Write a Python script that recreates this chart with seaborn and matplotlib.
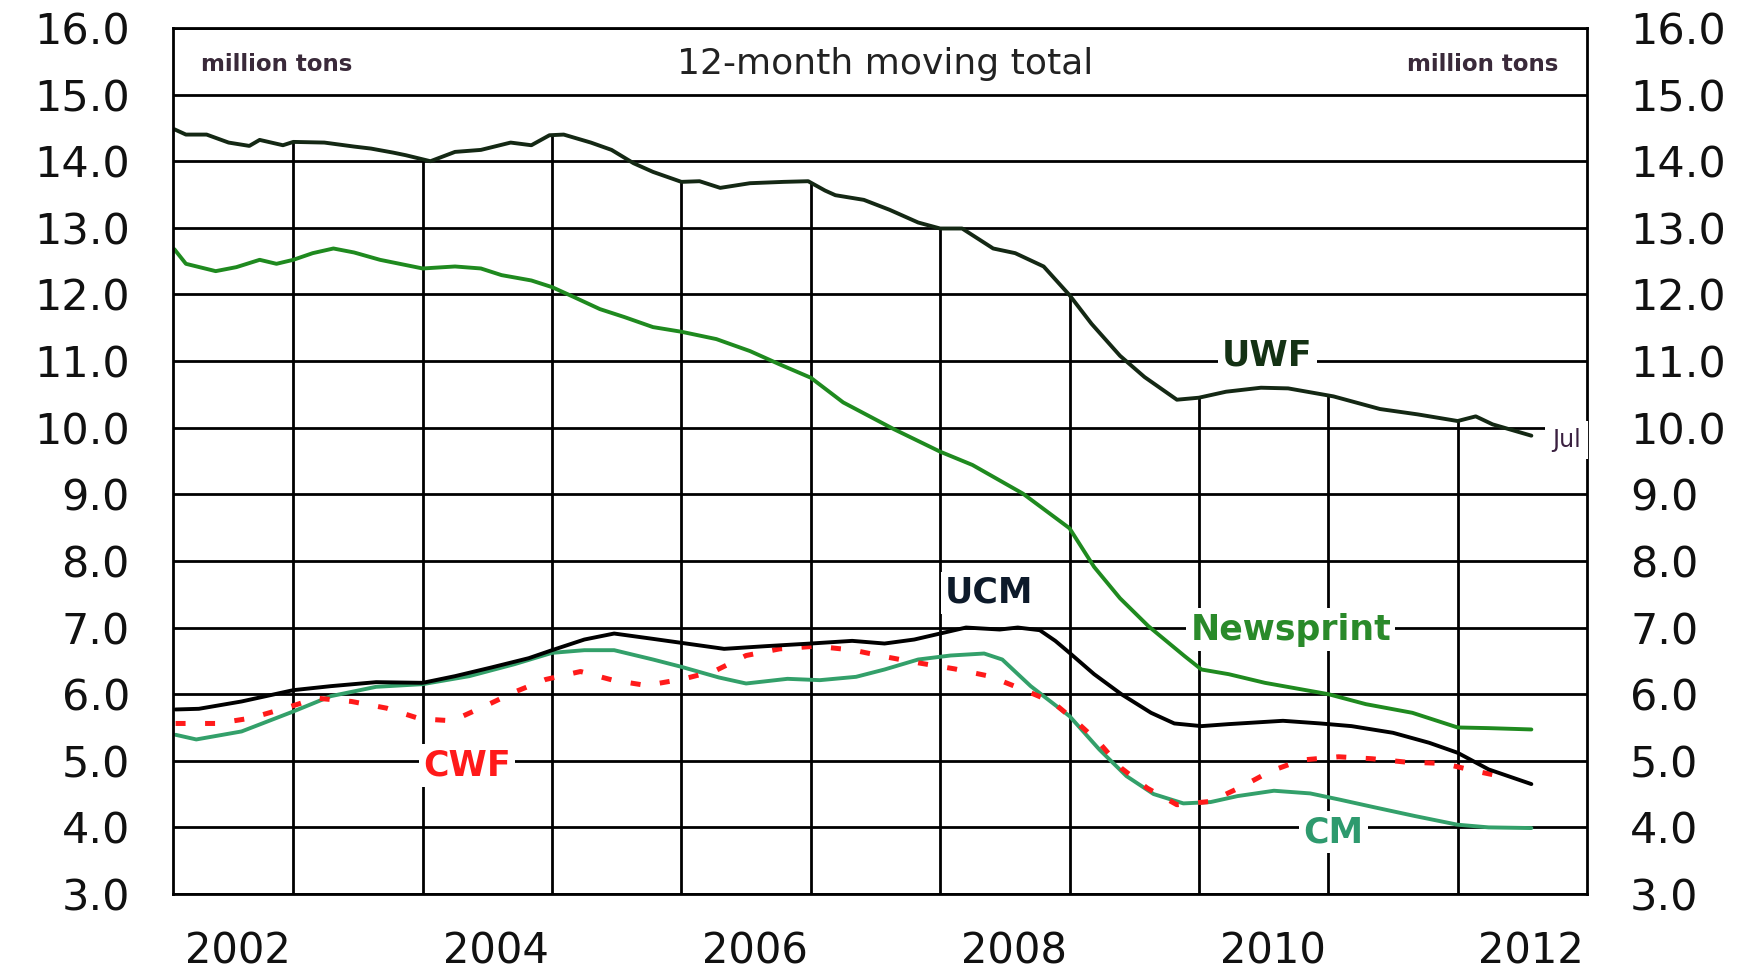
import numpy as np
import pandas as pd
import matplotlib
matplotlib.use("Agg")
import matplotlib.pyplot as plt
import seaborn as sns

# ---------------- data (12-month moving total, million tons) ----------------
uwf_year = [2002.08, 2002.17, 2002.33, 2002.50, 2002.66, 2002.74, 2002.92, 2003.00, 2003.24, 2003.47,
            2003.60, 2003.77, 2003.87, 2004.06, 2004.25, 2004.45, 2004.68, 2004.84, 2004.98, 2005.09,
            2005.30, 2005.46, 2005.63, 2005.78, 2006.00, 2006.14, 2006.30, 2006.53, 2006.79, 2006.98,
            2007.11, 2007.19, 2007.41, 2007.61, 2007.83, 2008.00, 2008.17, 2008.41, 2008.58, 2008.80,
            2009.00, 2009.17, 2009.39, 2009.58, 2009.83, 2010.00, 2010.21, 2010.48, 2010.69, 2011.04,
            2011.40, 2011.69, 2012.00, 2012.14, 2012.27, 2012.57]
uwf_val = [14.48, 14.40, 14.40, 14.28, 14.23, 14.32, 14.24, 14.29, 14.28, 14.22,
           14.19, 14.13, 14.09, 14.00, 14.14, 14.17, 14.28, 14.24, 14.39, 14.40,
           14.28, 14.17, 13.97, 13.84, 13.69, 13.70, 13.60, 13.67, 13.69, 13.70,
           13.56, 13.49, 13.42, 13.27, 13.08, 12.99, 12.99, 12.69, 12.62, 12.42,
           11.99, 11.56, 11.08, 10.76, 10.42, 10.45, 10.54, 10.60, 10.59, 10.47,
           10.28, 10.20, 10.10, 10.17, 10.05, 9.88]

news_year = [2002.08, 2002.17, 2002.40, 2002.56, 2002.74, 2002.87, 2003.00, 2003.15, 2003.31, 2003.47,
             2003.67, 2004.00, 2004.25, 2004.45, 2004.61, 2004.84, 2005.00, 2005.17, 2005.37, 2005.56,
             2005.78, 2006.00, 2006.27, 2006.53, 2006.76, 2007.00, 2007.25, 2007.64, 2008.00, 2008.25,
             2008.64, 2009.00, 2009.19, 2009.39, 2009.61, 2009.89, 2010.02, 2010.23, 2010.51, 2011.00,
             2011.29, 2011.65, 2012.00, 2012.24, 2012.57]
news_val = [12.68, 12.46, 12.35, 12.41, 12.52, 12.46, 12.52, 12.62, 12.69, 12.63,
            12.52, 12.39, 12.42, 12.39, 12.29, 12.21, 12.11, 11.96, 11.78, 11.66,
            11.51, 11.44, 11.33, 11.15, 10.95, 10.75, 10.38, 9.98, 9.64, 9.44,
            9.01, 8.49, 7.91, 7.44, 7.02, 6.57, 6.37, 6.30, 6.17, 6.00,
            5.85, 5.72, 5.50, 5.49, 5.47]

ucm_year = [2002.09, 2002.27, 2002.60, 2003.00, 2003.29, 2003.64, 2004.00, 2004.25, 2004.53, 2004.82,
            2005.00, 2005.25, 2005.48, 2005.78, 2006.00, 2006.33, 2006.65, 2007.00, 2007.32, 2007.57,
            2007.80, 2008.00, 2008.20, 2008.46, 2008.60, 2008.77, 2008.89, 2009.00, 2009.19, 2009.40,
            2009.63, 2009.81, 2010.02, 2010.23, 2010.65, 2010.94, 2011.18, 2011.50, 2011.78, 2012.00,
            2012.24, 2012.57]
ucm_val = [5.77, 5.78, 5.89, 6.06, 6.12, 6.18, 6.17, 6.27, 6.40, 6.54,
           6.66, 6.82, 6.91, 6.83, 6.77, 6.68, 6.72, 6.76, 6.80, 6.76,
           6.82, 6.91, 7.00, 6.97, 7.00, 6.96, 6.80, 6.62, 6.30, 6.00,
           5.72, 5.56, 5.52, 5.55, 5.60, 5.56, 5.52, 5.42, 5.27, 5.12,
           4.87, 4.65]

cm_year = [2002.09, 2002.25, 2002.60, 2003.00, 2003.29, 2003.64, 2004.00, 2004.36, 2004.71, 2005.00,
           2005.25, 2005.48, 2005.78, 2006.00, 2006.29, 2006.50, 2006.82, 2007.07, 2007.35, 2007.57,
           2007.83, 2008.08, 2008.34, 2008.48, 2008.70, 2009.00, 2009.23, 2009.44, 2009.65, 2009.88,
           2010.09, 2010.30, 2010.58, 2010.86, 2011.08, 2011.36, 2011.67, 2012.00, 2012.24, 2012.57]
cm_val = [5.39, 5.32, 5.44, 5.74, 5.97, 6.11, 6.15, 6.27, 6.45, 6.62,
          6.66, 6.66, 6.52, 6.41, 6.25, 6.16, 6.23, 6.21, 6.26, 6.37,
          6.52, 6.58, 6.61, 6.52, 6.12, 5.67, 5.17, 4.77, 4.50, 4.36,
          4.38, 4.47, 4.55, 4.51, 4.42, 4.30, 4.17, 4.04, 4.00, 3.99]

cwf_year = [2002.09, 2002.41, 2002.67, 2002.94, 2003.18, 2003.45, 2003.72, 2003.98, 2004.23, 2004.48,
            2004.72, 2004.95, 2005.22, 2005.47, 2005.73, 2006.02, 2006.26, 2006.50, 2006.76, 2007.04,
            2007.33, 2007.58, 2007.83, 2008.11, 2008.38, 2008.64, 2008.87, 2009.05, 2009.23, 2009.40,
            2009.60, 2009.83, 2010.09, 2010.33, 2010.55, 2010.79, 2011.08, 2011.34, 2011.60, 2011.89,
            2012.15, 2012.35]
cwf_val = [5.56, 5.56, 5.64, 5.79, 5.94, 5.89, 5.79, 5.63, 5.60, 5.82,
           6.04, 6.22, 6.34, 6.21, 6.13, 6.23, 6.35, 6.58, 6.68, 6.72,
           6.66, 6.56, 6.47, 6.38, 6.27, 6.07, 5.88, 5.59, 5.27, 4.89,
           4.59, 4.34, 4.39, 4.61, 4.84, 5.01, 5.06, 5.03, 4.98, 4.96,
           4.84, 4.76]

y_ticks = [3.0, 4.0, 5.0, 6.0, 7.0, 8.0, 9.0, 10.0, 11.0, 12.0, 13.0, 14.0, 15.0, 16.0]
year_labels = ["2002", "2004", "2006", "2008", "2010", "2012"]
year_bounds = [2003, 2004, 2005, 2006, 2007, 2008, 2009, 2010, 2011, 2012]

# ---------------- styling ----------------
sns.set_style("white")
plt.rcParams['font.family'] = ['DejaVu Sans']

fig = plt.figure(figsize=(17.52, 9.74), dpi=100)
fig.patch.set_facecolor("white")
ax = fig.add_axes([0.09874, 0.08214, 0.80708, 0.88912])
ax.set_axisbelow(True)

GRID_LW = 2.0
series = [
    ("UWF", uwf_year, uwf_val, "#142814", "-", 2.8),
    ("Newsprint", news_year, news_val, "#1f8a1f", "-", 2.8),
    ("CM", cm_year, cm_val, "#33a06a", "-", 2.8),
    ("CWF", cwf_year, cwf_val, "#ff1a1a", (0, (2.0, 3.9)), 3.6),
    ("UCM", ucm_year, ucm_val, "#000000", "-", 2.8),
]
for name, xs, ys, color, ls, lw in series:
    df = pd.DataFrame({"year": xs, "value": ys})
    sns.lineplot(data=df, x="year", y="value", ax=ax, color=color,
                 linestyle=ls, linewidth=lw, estimator=None, sort=False,
                 dash_capstyle="butt")

ax.set_xlim(2002.07, 2013.0)
ax.set_ylim(3, 16)
ax.set_xlabel("")
ax.set_ylabel("")

# y axis ticks + horizontal grid
ax.set_yticks(y_ticks)
ax.set_yticklabels([f"{v:.1f}" for v in y_ticks])
ax.yaxis.grid(True, color="black", linewidth=GRID_LW)
ax.xaxis.grid(False)
ax.tick_params(axis="y", length=0, pad=31, labelsize=31, labelcolor="#111111",
               labelleft=True, labelright=True, left=False, right=False)

# x axis labels centered in years
ax.set_xticks([int(y) + 0.57 for y in year_labels])
ax.set_xticklabels(year_labels)
ax.tick_params(axis="x", length=0, pad=26, labelsize=30, labelcolor="#111111")

# vertical year-boundary lines, drawn from the bottom up to the UWF curve
tops = np.interp(year_bounds, uwf_year, uwf_val)
ax.vlines(year_bounds, 3, tops, color="black", linewidth=GRID_LW, zorder=0.8)

for sp in ax.spines.values():
    sp.set_visible(True)
    sp.set_color("black")
    sp.set_linewidth(GRID_LW)

# header texts
ax.text(0.0198, 0.958, "million tons", transform=ax.transAxes, ha="left", va="center",
        fontsize=16.5, fontweight="bold", color="#3a2a3a")
ax.text(0.980, 0.958, "million tons", transform=ax.transAxes, ha="right", va="center",
        fontsize=16.5, fontweight="bold", color="#3a2a3a")
ax.text(0.5035, 0.958, "12-month moving total", transform=ax.transAxes, ha="center", va="center",
        fontsize=26, color="#222222")

# series labels
box = dict(facecolor="white", edgecolor="none", pad=3)
ax.text(2010.53, 11.08, "UWF", ha="center", va="center", fontsize=25, fontweight="bold",
        color="#143214", bbox=box)
ax.text(2010.71, 6.97, "Newsprint", ha="center", va="center", fontsize=25, fontweight="bold",
        color="#2a8a2a", bbox=box)
ax.text(2008.38, 7.52, "UCM", ha="center", va="center", fontsize=25, fontweight="bold",
        color="#0d1a2a", bbox=box)
ax.text(2004.34, 4.93, "CWF", ha="center", va="center", fontsize=25, fontweight="bold",
        color="#ff1a1a", bbox=box)
ax.text(2011.04, 3.93, "CM", ha="center", va="center", fontsize=25, fontweight="bold",
        color="#2e9a6e", bbox=box)
ax.text(2012.84, 9.82, "Jul", ha="center", va="center", fontsize=17, color="#3a2040",
        bbox=dict(facecolor="white", edgecolor="none", pad=5), zorder=5, clip_on=False)

fig.savefig("out.png", dpi=100, facecolor="white")
